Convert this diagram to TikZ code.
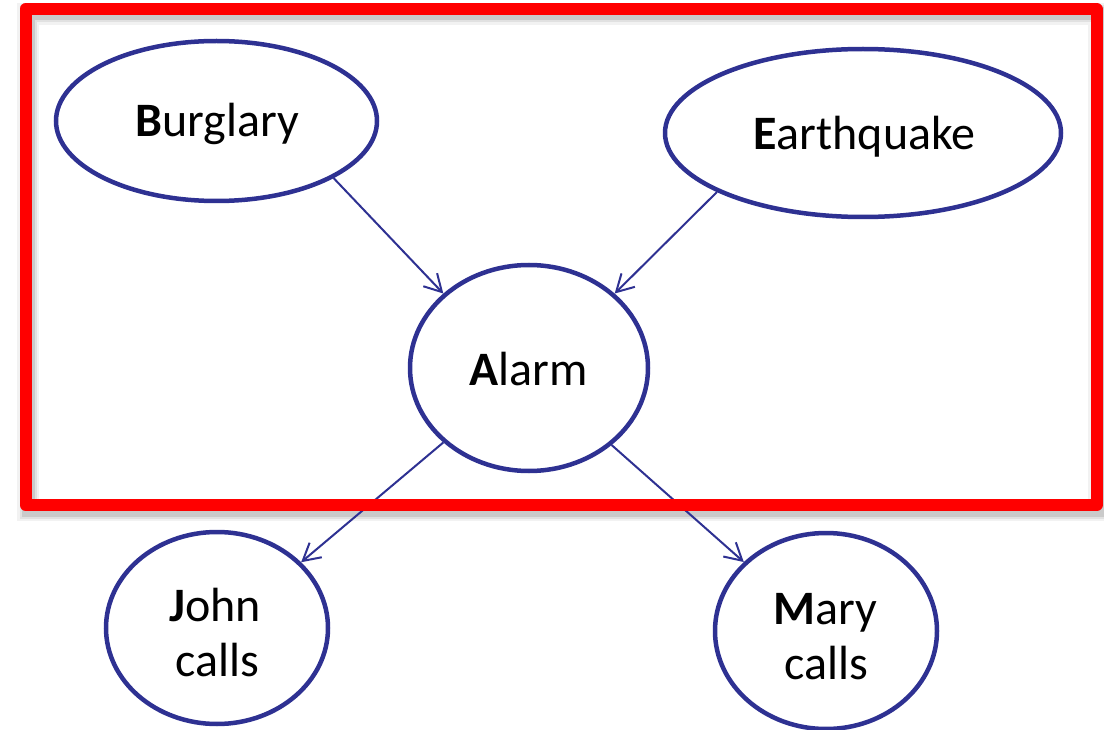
\documentclass[tikz,border=0pt]{standalone}
\usepackage{fontspec}
\setmainfont{Carlito}
\usetikzlibrary{shapes.geometric,arrows.meta}
\definecolor{nodeblue}{RGB}{46,49,146}
\definecolor{framered}{RGB}{255,0,0}
\begin{document}
\begin{tikzpicture}[x=1pt,y=-1pt,
  ell/.style={ellipse, draw=nodeblue, line width=4.5pt, fill=white, inner sep=0pt},
  lbl/.style={anchor=base, inner sep=0pt, text=black, font=\fontsize{48}{48}\selectfont},
  conn/.style={draw=nodeblue, line width=2pt, -{Straight Barb[length=17pt,width=19pt]}},
  frame/.style={draw=framered, line width=12pt, line join=round},
]
\useasboundingbox (0,0) rectangle (1104,730);
% soft shadow of the frame
\foreach \w/\o in {22/0.05,17/0.07,13/0.1}
  \draw[black, opacity=\o, line width=\w pt] (28,14) rectangle (1099,510);

% nodes
\node[ell, minimum width=321pt, minimum height=160pt] (B) at (216.5,121) {};
\node[ell, minimum width=396pt, minimum height=168pt] (E) at (863,133) {};
\node[ell, minimum width=238pt, minimum height=206pt] (A) at (529,368) {};
\node[ell, minimum width=222pt, minimum height=192pt] (J) at (217,628) {};
\node[ell, minimum width=222pt, minimum height=196pt] (M) at (826,631) {};

% labels
\node[lbl] (tB) at (217.5,137) {{\bfseries B}urglary};
\node[lbl] (tE) at (864.5,150) {{\bfseries E}arthquake};
\node[lbl] (tA) at (528.5,385) {{\bfseries A}larm};
\node[lbl] (tJ1) at (215,621) {{\bfseries J}ohn};
\node[lbl] (tJ2) at (217,676) {calls};
\node[lbl] (tM1) at (825,624) {{\bfseries M}ary};
\node[lbl] (tM2) at (826,679) {calls};

% connectors
\draw[conn] (B.-26.5) -- (A.139.6);
\draw[conn] (E.202.8) -- (A.41.1);
\draw[conn] (A.221.9) -- (J.38.7);
\draw[conn] (A.317.8) -- (M.140.7);

% red frame
\draw[frame] (25.5,9) rectangle (1096.5,505);
\end{tikzpicture}
\end{document}
